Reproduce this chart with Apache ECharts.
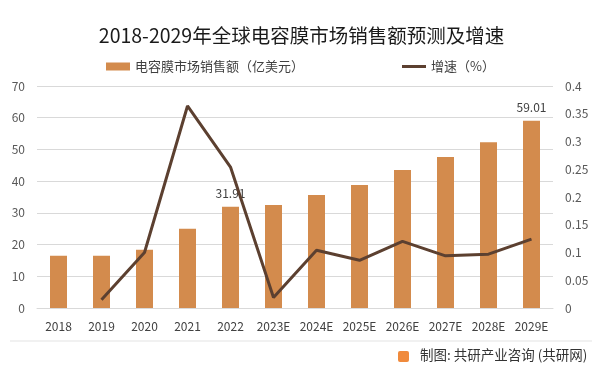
<!DOCTYPE html>
<html>
<head>
<meta charset="utf-8">
<script src="https://cdn.jsdelivr.net/npm/echarts@6/dist/echarts.min.js"></script>
<style>html,body{margin:0;padding:0;background:#fff;}#c{width:603px;height:374px;}</style>
</head>
<body>
<div id="c"></div>
<script>
const categories = ['2018','2019','2020','2021','2022','2023E','2024E','2025E','2026E','2027E','2028E','2029E'];
const salesValues = [16.5, 16.5, 18.4, 25.0, 31.91, 32.5, 35.6, 38.8, 43.5, 47.6, 52.3, 59.01];
const growthValues = [null, 0.015, 0.10, 0.364, 0.254, 0.019, 0.104, 0.086, 0.120, 0.094, 0.097, 0.124];
const labeledIndices = [4, 11];
const leftTicks = {min: 0, max: 70, interval: 10};
const rightTicks = {min: 0, max: 0.4, interval: 0.05};
const titleText = '2018-2029年全球电容膜市场销售额预测及增速';
const barName = '电容膜市场销售额（亿美元）';
const lineName = '增速（%）';
const footerText = '制图: 共研产业咨询 (共研网)';

const font = '"Noto Sans CJK SC", "Noto Sans", sans-serif';
const chart = echarts.init(document.getElementById('c'), null, {renderer: 'canvas'});
chart.setOption({
  animation: false,
  backgroundColor: '#fff',
  textStyle: {fontFamily: font},
  title: {
    text: titleText, left: 'center', top: 21,
    textStyle: {fontSize: 19.5, fontWeight: 'normal', color: '#1a1a1a', fontFamily: font}
  },
  legend: {
    top: 55, left: 101, itemGap: 98,
    itemWidth: 24, itemHeight: 8,
    textStyle: {fontSize: 13, color: '#404040', fontFamily: font},
    data: [
      {name: barName, icon: 'rect'},
      {name: lineName, icon: 'path://M0,0 L24,0 L24,3 L0,3 Z', itemStyle: {color: '#5c4030'}}
    ]
  },
  grid: {left: 37, right: 50, top: 86, bottom: 66, containLabel: false},
  xAxis: {
    type: 'category', data: categories,
    axisLine: {lineStyle: {color: '#d9d9d9'}},
    axisTick: {show: false},
    axisLabel: {color: '#404040', fontSize: 12, margin: 12, interval: 0}
  },
  yAxis: [
    {
      type: 'value', min: leftTicks.min, max: leftTicks.max, interval: leftTicks.interval,
      axisLine: {show: false}, axisTick: {show: false},
      axisLabel: {color: '#595959', fontSize: 12, margin: 12},
      splitLine: {lineStyle: {color: '#d9d9d9'}}
    },
    {
      type: 'value', min: rightTicks.min, max: rightTicks.max, interval: rightTicks.interval,
      axisLine: {show: false}, axisTick: {show: false},
      axisLabel: {color: '#595959', fontSize: 12, margin: 12},
      splitLine: {show: false}
    }
  ],
  series: [
    {
      name: barName, type: 'bar', barWidth: 17,
      itemStyle: {color: '#d38b4d'},
      data: salesValues.map((v, i) => labeledIndices.includes(i) ? {
        value: v,
        label: {show: true, position: 'top', distance: 7, color: '#404040', fontSize: 12, formatter: (p) => p.value.toFixed(2)}
      } : v)
    },
    {
      name: lineName, type: 'line', yAxisIndex: 1,
      showSymbol: false, symbol: 'none',
      lineStyle: {color: '#5c4030', width: 3},
      itemStyle: {color: '#5c4030'},
      data: growthValues
    }
  ],
  graphic: [
    {type: 'line', shape: {x1: 10, y1: 341, x2: 592, y2: 341}, style: {stroke: '#e3e3e3', lineWidth: 1}},
    {type: 'rect', shape: {x: 398, y: 351, width: 11, height: 11, r: 2}, style: {fill: '#f08a3c'}},
    {type: 'text', left: 420, top: 348, style: {text: footerText, fontSize: 13.5, fill: '#333', fontFamily: font}}
  ]
});
</script>
</body>
</html>
